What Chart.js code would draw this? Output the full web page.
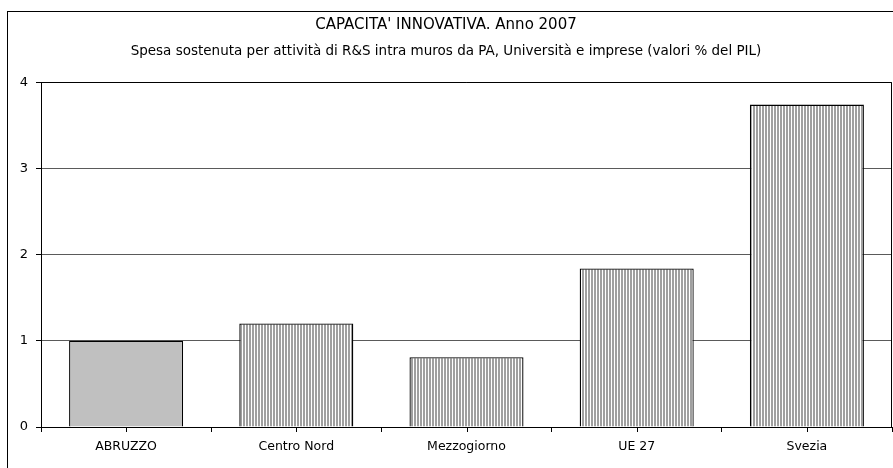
<!DOCTYPE html>
<html>
<head>
<meta charset="utf-8">
<script src="https://cdn.jsdelivr.net/npm/chart.js@4/dist/chart.umd.min.js"></script>
<style>
  html, body { margin: 0; padding: 0; background: #fff; }
  canvas { display: block; }
</style>
</head>
<body>
<canvas id="chart" width="893" height="468"></canvas>
<script>
const categories = ["ABRUZZO", "Centro Nord", "Mezzogiorno", "UE 27", "Svezia"];
const values = [1.0, 1.2, 0.81, 1.84, 3.74];
const yTicks = [0, 1, 2, 3, 4];
const titleText = "CAPACITA' INNOVATIVA. Anno 2007";
const subtitleText = "Spesa sostenuta per attività di R&S intra muros da PA, Università e imprese (valori % del PIL)";

// vertical stripe fill like the old Excel pattern
function stripes() {
  const c = document.createElement("canvas");
  c.width = 3;
  c.height = 1;
  const g = c.getContext("2d");
  g.fillStyle = "#fff";
  g.fillRect(0, 0, 3, 1);
  g.fillStyle = "#a0a0a0";
  g.fillRect(0, 0, 2, 1);
  return g.createPattern(c, "repeat");
}

const ctx = document.getElementById("chart").getContext("2d");
const striped = stripes();
const fills = categories.map((c, i) => (i === 0 ? "#c0c0c0" : striped));

const frame = {
  id: "frame",
  afterDraw(chart) {
    const { ctx, chartArea: a, scales } = chart;
    ctx.save();
    ctx.strokeStyle = "#000";
    ctx.lineWidth = 1;
    // outer chart border (right and bottom run off the picture)
    ctx.strokeRect(7.5, 11.5, 900, 500);
    // plot area border
    ctx.beginPath();
    ctx.moveTo(a.left, Math.round(a.top) + 0.5);
    ctx.lineTo(Math.round(a.right) - 0.5, Math.round(a.top) + 0.5);
    ctx.lineTo(Math.round(a.right) - 0.5, a.bottom);
    ctx.stroke();
    // tick marks under each category centre
    ctx.beginPath();
    categories.forEach((c, i) => {
      const px = Math.round(scales.x.getPixelForValue(i)) + 0.5;
      ctx.moveTo(px, a.bottom);
      ctx.lineTo(px, a.bottom + 5);
    });
    ctx.stroke();
    ctx.restore();
  },
};

new Chart(ctx, {
  type: "bar",
  data: {
    labels: categories,
    datasets: [
      {
        data: values,
        backgroundColor: fills,
        borderColor: "#000",
        borderWidth: 1.3,
        barPercentage: 0.67,
        categoryPercentage: 1,
      },
    ],
  },
  options: {
    responsive: false,
    devicePixelRatio: 1,
    animation: false,
    layout: { padding: { left: 0, right: 1, top: 0, bottom: 0 } },
    plugins: {
      legend: { display: false },
      tooltip: { enabled: false },
      title: {
        display: true,
        text: titleText,
        color: "#000",
        font: { family: "DejaVu Sans", size: 15, weight: "normal" },
        padding: { top: 16, bottom: 0 },
      },
      subtitle: {
        display: true,
        text: subtitleText,
        color: "#000",
        font: { family: "DejaVu Sans", size: 13.5, weight: "normal" },
        padding: { top: 9, bottom: 23 },
      },
    },
    scales: {
      x: {
        afterFit(scale) {
          scale.height = 41;
        },
        grid: {
          offset: true,
          drawOnChartArea: false,
          drawTicks: true,
          tickLength: 5,
          tickColor: "#000",
        },
        border: { display: true, color: "#000", width: 1 },
        ticks: {
          color: "#000",
          padding: 7,
          font: { family: "DejaVu Sans", size: 12.5 },
        },
      },
      y: {
        min: yTicks[0],
        max: yTicks[yTicks.length - 1],
        afterFit(scale) {
          scale.width = 41;
        },
        afterBuildTicks(scale) {
          scale.ticks = yTicks.map((v) => ({ value: v }));
        },
        grid: {
          color: "#5a5a5a",
          lineWidth: 1,
          drawTicks: true,
          tickLength: 5,
          tickColor: "#000",
        },
        border: { display: true, color: "#000", width: 1 },
        ticks: {
          color: "#000",
          padding: 8,
          font: { family: "DejaVu Sans", size: 13 },
        },
      },
    },
  },
  plugins: [frame],
});
</script>
</body>
</html>
